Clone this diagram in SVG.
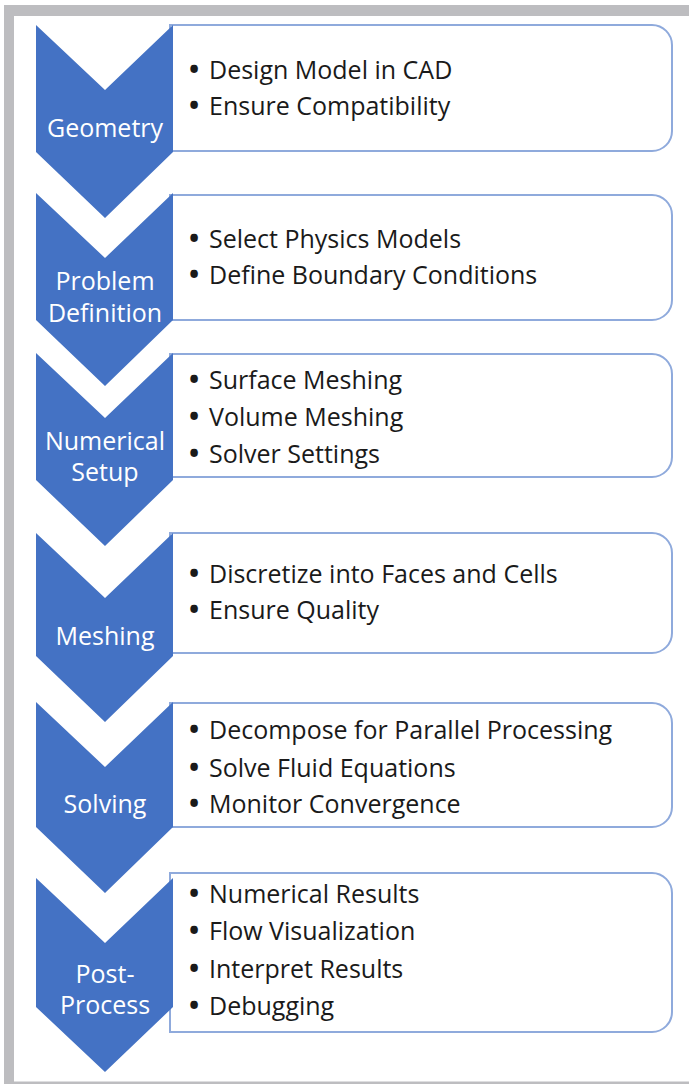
<svg xmlns="http://www.w3.org/2000/svg" width="689" height="1084" viewBox="0 0 689 1084">
  <style>
    .chev { fill: #4472c4; }
    .box { fill: #ffffff; stroke: #8faadc; stroke-width: 2; }
    .lbl { font-family: "Open Sans", "Liberation Sans", sans-serif; font-size: 25px; fill: #ffffff; text-anchor: middle; }
    .item { font-family: "Open Sans", "Liberation Sans", sans-serif; font-size: 25px; fill: #1a1a1a; }
    .bul { font-size: 27px; font-weight: 700; }
  </style>
  <rect x="0" y="0" width="689" height="1084" fill="#ffffff"/>
  <rect x="4" y="5" width="700" height="1090" fill="#bdbdc0"/>
  <rect x="14" y="16" width="700" height="1065.5" fill="#ffffff"/>

  <g id="connectors"></g>

  <g id="step-geometry">
    <path class="box" d="M170,25 H652 A20,20 0 0 1 672,45 V131 A20,20 0 0 1 652,151 H170 Z"/>
    <polygon class="chev" points="36,25 105,90 173,25 173,152 105,218 36,152"/>
    <text class="lbl" x="105" y="137">Geometry</text>
    <text class="item" y="79"><tspan class="bul" x="189">•</tspan><tspan x="209">Design Model in CAD</tspan></text>
    <text class="item" y="115"><tspan class="bul" x="189">•</tspan><tspan x="209">Ensure Compatibility</tspan></text>
  </g>

  <g id="step-problem-definition">
    <path class="box" d="M170,195 H652 A20,20 0 0 1 672,215 V300 A20,20 0 0 1 652,320 H170 Z"/>
    <polygon class="chev" points="36,193 105,258 173,193 173,320 105,386 36,320"/>
    <text class="lbl" x="105" y="290">Problem</text>
    <text class="lbl" x="105" y="322">Definition</text>
    <text class="item" y="248"><tspan class="bul" x="189">•</tspan><tspan x="209">Select Physics Models</tspan></text>
    <text class="item" y="284"><tspan class="bul" x="189">•</tspan><tspan x="209">Define Boundary Conditions</tspan></text>
  </g>

  <g id="step-numerical-setup">
    <path class="box" d="M170,354 H652 A20,20 0 0 1 672,374 V457 A20,20 0 0 1 652,477 H170 Z"/>
    <polygon class="chev" points="36,353 105,418 173,353 173,480 105,546 36,480"/>
    <text class="lbl" x="105" y="450">Numerical</text>
    <text class="lbl" x="105" y="481">Setup</text>
    <text class="item" y="389"><tspan class="bul" x="189">•</tspan><tspan x="209">Surface Meshing</tspan></text>
    <text class="item" y="426"><tspan class="bul" x="189">•</tspan><tspan x="209">Volume Meshing</tspan></text>
    <text class="item" y="463"><tspan class="bul" x="189">•</tspan><tspan x="209">Solver Settings</tspan></text>
  </g>

  <g id="step-meshing">
    <path class="box" d="M170,533 H652 A20,20 0 0 1 672,553 V633 A20,20 0 0 1 652,653 H170 Z"/>
    <polygon class="chev" points="36,533 105,598 173,533 173,656 105,722 36,656"/>
    <text class="lbl" x="105" y="645">Meshing</text>
    <text class="item" y="583"><tspan class="bul" x="189">•</tspan><tspan x="209">Discretize into Faces and Cells</tspan></text>
    <text class="item" y="619"><tspan class="bul" x="189">•</tspan><tspan x="209">Ensure Quality</tspan></text>
  </g>

  <g id="step-solving">
    <path class="box" d="M170,703 H652 A20,20 0 0 1 672,723 V807 A20,20 0 0 1 652,827 H170 Z"/>
    <polygon class="chev" points="36,702 105,767 173,702 173,827 105,893 36,827"/>
    <text class="lbl" x="105" y="813">Solving</text>
    <text class="item" y="739"><tspan class="bul" x="189">•</tspan><tspan x="209">Decompose for Parallel Processing</tspan></text>
    <text class="item" y="777"><tspan class="bul" x="189">•</tspan><tspan x="209">Solve Fluid Equations</tspan></text>
    <text class="item" y="813"><tspan class="bul" x="189">•</tspan><tspan x="209">Monitor Convergence</tspan></text>
  </g>

  <g id="step-post-process">
    <path class="box" d="M170,873 H652 A20,20 0 0 1 672,893 V1012 A20,20 0 0 1 652,1032 H170 Z"/>
    <polygon class="chev" points="36,878 105,943 173,878 173,1007 105,1072 36,1007"/>
    <text class="lbl" x="105" y="983">Post-</text>
    <text class="lbl" x="105" y="1014">Process</text>
    <text class="item" y="903"><tspan class="bul" x="189">•</tspan><tspan x="209">Numerical Results</tspan></text>
    <text class="item" y="940"><tspan class="bul" x="189">•</tspan><tspan x="209">Flow Visualization</tspan></text>
    <text class="item" y="978"><tspan class="bul" x="189">•</tspan><tspan x="209">Interpret Results</tspan></text>
    <text class="item" y="1015"><tspan class="bul" x="189">•</tspan><tspan x="209">Debugging</tspan></text>
  </g>
</svg>
